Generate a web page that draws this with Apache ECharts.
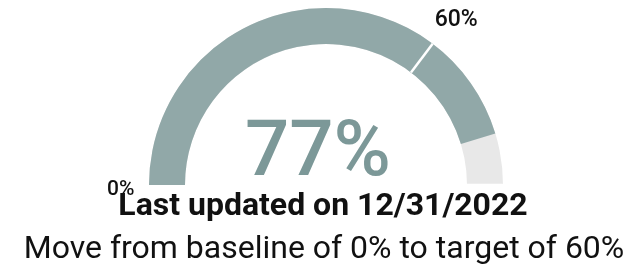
<!DOCTYPE html>
<html>
<head>
<meta charset="utf-8">
<script src="https://cdn.jsdelivr.net/npm/echarts@6/dist/echarts.min.js"></script>
<style>
html,body{margin:0;padding:0;background:#fff;}
#chart{width:634px;height:265px;}
</style>
</head>
<body>
<div id="chart"></div>
<script>
// Data
const gaugeMin = 0;
const gaugeMax = 85;
const actualValue = [77];
const baselineValue = 0;
const targetValue = [60];
const updatedText = ['Last updated on 12/31/2022'];
const subText = ['Move from baseline of 0% to target of 60%'];

const fillColor = '#91a8a8';
const trackColor = '#e8e8e8';
const center = [326, 185];
const radius = 177;
const band = 36;

const chart = echarts.init(document.getElementById('chart'), null, {renderer: 'canvas'});
const targetAngle = 180 - 180 * (targetValue[0] - gaugeMin) / (gaugeMax - gaugeMin);

chart.setOption({
  animation: false,
  series: [
    {
      type: 'gauge',
      z: 2,
      center: center,
      radius: radius,
      startAngle: 180,
      endAngle: 0,
      min: gaugeMin,
      max: gaugeMax,
      splitNumber: 1,
      axisLine: {lineStyle: {width: band, color: [[1, trackColor]]}},
      progress: {show: true, width: band, roundCap: false, itemStyle: {color: fillColor}},
      pointer: {show: false},
      axisTick: {show: false},
      splitLine: {show: false},
      anchor: {show: false},
      axisLabel: {
        show: true,
        distance: -62,
        color: '#111',
        fontFamily: 'Roboto',
        fontSize: 21,
        fontWeight: 500,
        formatter: v => (v === baselineValue ? '{a|' + v + '%}' : ''),
        rich: {a: {fontFamily: 'Roboto', fontSize: 21, fontWeight: 500, color: '#111', padding: [10, 0, 0, 0]}}
      },
      title: {show: false},
      detail: {
        show: true,
        offsetCenter: [-8, -30],
        formatter: '{value}%',
        fontFamily: 'Roboto',
        fontSize: 78,
        fontWeight: 500,
        color: '#7c9898'
      },
      data: [{value: actualValue[0]}]
    },
    {
      type: 'gauge',
      z: 6,
      center: center,
      radius: radius,
      startAngle: targetAngle,
      endAngle: 0,
      min: targetValue[0],
      max: gaugeMax,
      splitNumber: 1,
      axisLine: {show: false, lineStyle: {width: 0}},
      progress: {show: false},
      pointer: {show: false},
      axisTick: {show: false},
      anchor: {show: false},
      splitLine: {show: true, length: band, distance: 0, lineStyle: {color: '#ffffff', width: 2.5}},
      axisLabel: {
        show: true,
        distance: -66,
        color: '#111',
        fontFamily: 'Roboto',
        fontSize: 23,
        fontWeight: 500,
        padding: [6, -27, 0, 0],
        formatter: v => (v === targetValue[0] ? v + '%' : '')
      },
      title: {show: false},
      detail: {show: false},
      data: []
    }
  ],
  graphic: [
    {
      type: 'text',
      x: 323, y: 207,
      style: {
        text: updatedText[0],
        fontFamily: 'Roboto', fontWeight: 'bold', fontSize: 32,
        fill: '#111', align: 'center', verticalAlign: 'middle'
      }
    },
    {
      type: 'text',
      x: 324, y: 250,
      style: {
        text: subText[0],
        fontFamily: 'Roboto', fontSize: 32,
        fill: '#111', align: 'center', verticalAlign: 'middle'
      }
    }
  ]
});
</script>
</body>
</html>
